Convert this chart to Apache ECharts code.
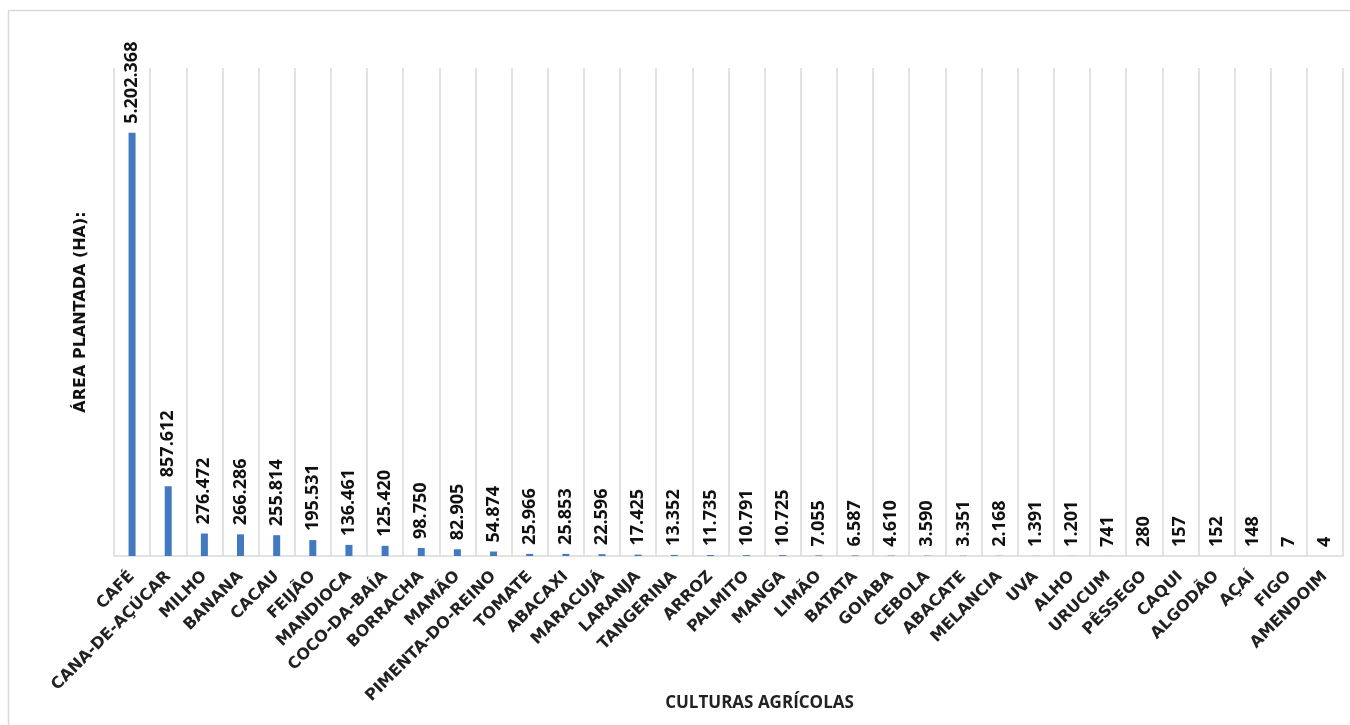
<!DOCTYPE html>
<html>
<head>
<meta charset="utf-8">
<script src="https://cdn.jsdelivr.net/npm/echarts@6/dist/echarts.min.js"></script>
<style>
html,body{margin:0;padding:0;background:#fff;}
#chart{width:1350px;height:725px;}
</style>
</head>
<body>
<div id="chart"></div>
<script>
const categories = ["CAFÉ","CANA-DE-AÇÚCAR","MILHO","BANANA","CACAU","FEIJÃO","MANDIOCA","COCO-DA-BAÍA","BORRACHA","MAMÃO","PIMENTA-DO-REINO","TOMATE","ABACAXI","MARACUJÁ","LARANJA","TANGERINA","ARROZ","PALMITO","MANGA","LIMÃO","BATATA","GOIABA","CEBOLA","ABACATE","MELANCIA","UVA","ALHO","URUCUM","PÊSSEGO","CAQUI","ALGODÃO","AÇAÍ","FIGO","AMENDOIM"];
const areaPlantada = [5202368,857612,276472,266286,255814,195531,136461,125420,98750,82905,54874,25966,25853,22596,17425,13352,11735,10791,10725,7055,6587,4610,3590,3351,2168,1391,1201,741,280,157,152,148,7,4];
const xTitle = "CULTURAS AGRÍCOLAS";
const yTitle = "ÁREA PLANTADA (HA):";

function fmt(v){ return String(v).replace(/\B(?=(\d{3})+(?!\d))/g, "."); }

const chart = echarts.init(document.getElementById('chart'));
chart.setOption({
  backgroundColor:'#fff',
  animation:false,
  graphic:[{type:'rect',shape:{x:8.5,y:10.5,width:1400,height:800},style:{fill:null,stroke:'#d9d9d9',lineWidth:1.5},silent:true}],
  grid:{left:114,right:7,top:68,bottom:169,containLabel:false,outerBoundsMode:'none'},
  xAxis:{
    type:'category',
    data:categories,
    boundaryGap:true,
    name:xTitle,
    nameLocation:'middle',
    nameGap:139,
    nameMoveOverlap:false,
    nameTextStyle:{fontFamily:'Open Sans',fontWeight:'bold',fontSize:17,color:'#222',padding:[0,0,0,62]},
    axisLine:{show:true,lineStyle:{color:'#d9d9d9',width:1.5}},
    axisTick:{show:false},
    splitLine:{show:true,interval:0,lineStyle:{color:'#d9d9d9',width:1.5}},
    axisLabel:{interval:0,rotate:45,margin:18,fontFamily:'DejaVu Sans',fontWeight:'bold',fontSize:16,color:'#222'}
  },
  yAxis:{
    type:'value',
    min:0,max:6000000,
    name:yTitle,
    nameLocation:'middle',
    nameGap:25,
    nameRotate:90,
    nameMoveOverlap:false,
    nameTextStyle:{fontFamily:'DejaVu Sans',fontWeight:'bold',fontSize:16,color:'#111'},
    axisLine:{show:false},axisTick:{show:false},axisLabel:{show:false},splitLine:{show:false}
  },
  series:[{
    type:'bar',
    data:areaPlantada,
    barWidth:7,
    itemStyle:{color:'#4279C0'},
    label:{show:true,position:'top',rotate:90,align:'left',verticalAlign:'middle',distance:9,
      fontFamily:'Open Sans',fontWeight:'bold',fontSize:18,color:'#111',
      formatter:p=>fmt(p.value)}
  }]
});
</script>
</body>
</html>
